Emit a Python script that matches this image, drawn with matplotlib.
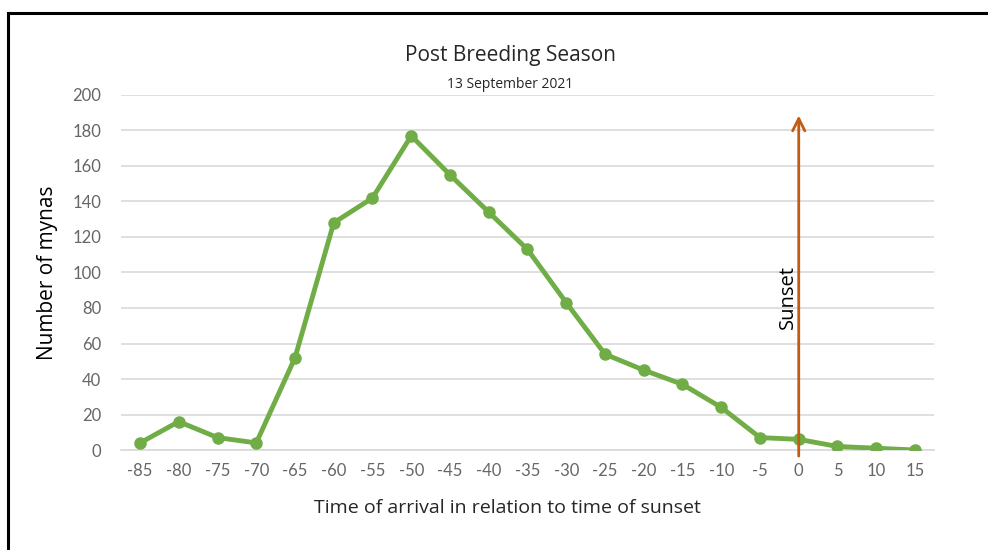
import matplotlib
matplotlib.use("Agg")
import matplotlib.pyplot as plt
from matplotlib.lines import Line2D

# data
minutes = [-85, -80, -75, -70, -65, -60, -55, -50, -45, -40, -35,
           -30, -25, -20, -15, -10, -5, 0, 5, 10, 15]
mynas = [4, 16, 7, 4, 52, 128, 142, 177, 155, 134, 113,
         83, 54, 45, 37, 24, 7, 6, 2, 1, 0]
sunset_minute = 0
arrow_top = 190

plt.rcParams['font.family'] = ['Lato', 'DejaVu Sans']

fig = plt.figure(figsize=(9.88, 5.5), dpi=100)
ax = fig.add_axes([0.1221, 0.1818, 0.8236, 0.6455])

x = list(range(len(minutes)))
ax.plot(x, mynas, color='#70AD47', lw=3.5, marker='o', ms=8,
        solid_capstyle='round', zorder=3)

# sunset arrow
sx = minutes.index(sunset_minute)
ax.annotate('', xy=(sx, arrow_top), xytext=(sx, -5),
            arrowprops=dict(arrowstyle='->', color='#C55A11', lw=2,
                            mutation_scale=22),
            annotation_clip=False, zorder=4)
ax.text(sx - 0.28, 86, 'Sunset', rotation=90, ha='center', va='center',
        fontsize=14.5, family=['Open Sans', 'DejaVu Sans'], color='black')

ax.set_xlim(-0.5, len(minutes) - 0.5)
ax.set_ylim(0, 200)
ax.set_yticks(range(0, 201, 20))
ax.set_xticks(x)
ax.set_xticklabels([str(m) for m in minutes])
ax.yaxis.grid(True, color='#D9D9D9', lw=1.2)
ax.set_axisbelow(True)
for s in ['top', 'right', 'left']:
    ax.spines[s].set_visible(False)
ax.spines['bottom'].set_color('#D9D9D9')
ax.spines['bottom'].set_linewidth(1.2)
ax.tick_params(length=0, labelsize=12, colors='#666666', pad=9)
ax.tick_params(axis='y', pad=14)

ax.set_ylabel('Number of mynas', fontsize=15, family=['Open Sans', 'DejaVu Sans'])
ax.yaxis.set_label_coords(-0.077, 0.5)
ax.set_xlabel('Time of arrival in relation to time of sunset', fontsize=14,
              family=['Open Sans', 'DejaVu Sans'], color='#262626')
ax.xaxis.set_label_coords(0.475, -0.138)

fig.text(0.5165, 0.9, 'Post Breeding Season', ha='center', va='center',
         fontsize=15, family=['Open Sans', 'DejaVu Sans'], color='#262626')
fig.text(0.5165, 0.847, '13 September 2021', ha='center', va='center',
         fontsize=10, family=['Open Sans', 'DejaVu Sans'], color='#262626')

# black frame on top and left
fig.add_artist(Line2D([8 / 988, 8 / 988], [0, 1 - 13 / 550], color='black', lw=2.2))
fig.add_artist(Line2D([8 / 988, 1], [1 - 13 / 550, 1 - 13 / 550], color='black', lw=2.2))

fig.savefig('out.png', dpi=100)
